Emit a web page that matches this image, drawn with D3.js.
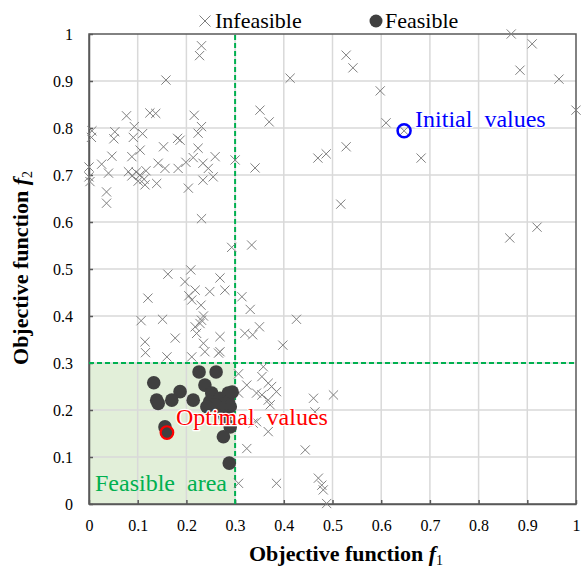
<!DOCTYPE html>
<html><head><meta charset="utf-8">
<script src="https://cdnjs.cloudflare.com/ajax/libs/d3/7.8.5/d3.min.js"></script>
<style>body{margin:0;background:#fff}svg{display:block}text{font-family:"Liberation Serif","Times New Roman",serif}</style>
</head><body><svg id="c" width="581" height="568"></svg>
<script>
const xTicks = [0,0.1,0.2,0.3,0.4,0.5,0.6,0.7,0.8,0.9,1];
const yTicks = [0,0.1,0.2,0.3,0.4,0.5,0.6,0.7,0.8,0.9,1];
const feasibleLimit = 0.3;
const initialValue = [0.647, 0.794];
const optimalValue = [0.160, 0.152];
const infeasible = [
[0.231,0.975],[0.227,0.954],[0.158,0.902],[0.413,0.906],[0.528,0.955],[0.542,0.928],[0.867,1.0],[0.910,0.979],
[0.885,0.923],[0.965,0.904],[1.0,0.838],[0.598,0.879],[0.610,0.811],[0.682,0.736],[0.351,0.838],[0.370,0.813],
[0.470,0.736],[0.487,0.745],[0.528,0.760],[0.517,0.638],[0.341,0.715],[0.300,0.732],[0.864,0.566],[0.920,0.589],
[0.647,0.794],[0.077,0.826],[0.125,0.832],[0.137,0.831],[0.216,0.827],[0.231,0.803],[0.006,0.794],[0.005,0.780],
[0.053,0.792],[0.051,0.777],[0.093,0.803],[0.110,0.788],[0.091,0.780],[0.182,0.778],[0.187,0.774],[0.224,0.789],
[0.153,0.760],[0.224,0.757],[0.105,0.753],[0.047,0.740],[0.088,0.739],[0.000,0.717],[0.026,0.723],[0.040,0.704],
[0.081,0.707],[0.097,0.706],[0.105,0.700],[0.113,0.691],[0.101,0.687],[0.117,0.709],[0.088,0.698],[0.142,0.725],
[0.156,0.714],[0.183,0.714],[0.199,0.727],[0.214,0.737],[0.234,0.725],[0.245,0.714],[0.259,0.739],[0.234,0.689],
[0.255,0.696],[0.139,0.682],[0.115,0.679],[0.002,0.686],[0.000,0.696],[0.204,0.672],[0.036,0.664],[0.036,0.640],
[0.231,0.607],[0.293,0.546],[0.334,0.551],[0.162,0.489],[0.209,0.498],[0.197,0.473],[0.269,0.481],[0.218,0.455],
[0.205,0.443],[0.248,0.452],[0.279,0.455],[0.121,0.438],[0.211,0.434],[0.230,0.423],[0.314,0.441],[0.331,0.414],
[0.235,0.400],[0.231,0.391],[0.228,0.384],[0.218,0.377],[0.107,0.390],[0.151,0.393],[0.221,0.363],[0.269,0.356],
[0.320,0.363],[0.336,0.360],[0.177,0.353],[0.115,0.345],[0.235,0.342],[0.238,0.324],[0.269,0.324],[0.266,0.321],
[0.116,0.322],[0.160,0.313],[0.211,0.313],[0.350,0.377],[0.426,0.393],[0.398,0.338],[0.307,0.277],[0.324,0.253],
[0.344,0.236],[0.307,0.236],[0.344,0.175],[0.324,0.118],[0.307,0.044],[0.358,0.292],[0.355,0.271],[0.368,0.257],
[0.375,0.250],[0.385,0.239],[0.355,0.232],[0.368,0.221],[0.372,0.211],[0.461,0.225],[0.502,0.232],[0.464,0.196],
[0.337,0.172],[0.368,0.154],[0.444,0.115],[0.385,0.044],[0.471,0.055],[0.478,0.040],[0.481,0.030],[0.488,0.001]
];
const feasible = [
[0.226,0.281],[0.261,0.281],[0.133,0.258],[0.238,0.253],[0.187,0.239],[0.252,0.236],[0.139,0.221],[0.170,0.221],
[0.214,0.221],[0.142,0.214],[0.248,0.218],[0.269,0.225],[0.286,0.236],[0.286,0.218],[0.290,0.207],[0.272,0.204],
[0.259,0.211],[0.242,0.207],[0.279,0.186],[0.290,0.164],[0.156,0.164],[0.160,0.152],[0.276,0.143],[0.288,0.087],
[0.294,0.238]
];

const svg = d3.select("#c");
const x = d3.scaleLinear().domain([0,1]).range([89,576]);
const y = d3.scaleLinear().domain([0,1]).range([504,34]);
const fmt = d => d===0?"0":d===1?"1":d3.format(".1f")(d);

svg.append("rect").attr("x",x(0)).attr("y",y(feasibleLimit)).attr("width",x(feasibleLimit)-x(0))
  .attr("height",y(0)-y(feasibleLimit)).attr("fill","#e2efd9");
svg.append("g").selectAll("line.v").data(xTicks.slice(1,-1)).join("line")
  .attr("x1",d=>x(d)).attr("x2",d=>x(d)).attr("y1",y(0)).attr("y2",y(1)).attr("stroke","#d9d9d9").attr("stroke-width",1.5);
svg.append("g").selectAll("line.h").data(yTicks.slice(1,-1)).join("line")
  .attr("y1",d=>y(d)).attr("y2",d=>y(d)).attr("x1",x(0)).attr("x2",x(1)).attr("stroke","#d9d9d9").attr("stroke-width",1.5);
svg.append("rect").attr("x",x(0)).attr("y",y(1)).attr("width",x(1)-x(0)).attr("height",y(0)-y(1))
  .attr("fill","none").attr("stroke","#595959").attr("stroke-width",1.5);

const xa = svg.append("g").attr("transform",`translate(0,${y(0)})`)
  .call(d3.axisBottom(x).tickValues(xTicks).tickFormat(fmt).tickSize(-4).tickPadding(16).tickSizeOuter(0));
const ya = svg.append("g").attr("transform",`translate(${x(0)},0)`)
  .call(d3.axisLeft(y).tickValues(yTicks).tickFormat(fmt).tickSize(-4).tickPadding(16).tickSizeOuter(0));
[xa,ya].forEach(a=>{
  a.select(".domain").attr("stroke","#595959").attr("stroke-width",1.5);
  a.selectAll(".tick line").attr("stroke","#595959").attr("stroke-width",1.5);
  a.selectAll(".tick text").attr("font-family","Liberation Serif").attr("font-size",16).attr("fill","#000");
});

svg.append("line").attr("x1",x(feasibleLimit)).attr("x2",x(feasibleLimit)).attr("y1",y(0)).attr("y2",y(1))
  .attr("stroke","#00b050").attr("stroke-width",2).attr("stroke-dasharray","5,3");
svg.append("line").attr("x1",x(0)).attr("x2",x(1)).attr("y1",y(feasibleLimit)).attr("y2",y(feasibleLimit))
  .attr("stroke","#00b050").attr("stroke-width",2).attr("stroke-dasharray","5,3");

const cross = s => `M${-s},${-s}L${s},${s}M${-s},${s}L${s},${-s}`;
svg.append("g").selectAll("path").data(infeasible).join("path")
  .attr("transform",d=>`translate(${x(d[0])},${y(d[1])})`).attr("d",cross(4.6))
  .attr("stroke","#7f7f7f").attr("stroke-width",1).attr("fill","none");
svg.append("g").selectAll("circle").data(feasible).join("circle")
  .attr("cx",d=>x(d[0])).attr("cy",d=>y(d[1])).attr("r",6.8).attr("fill","#404040");

svg.append("circle").attr("cx",x(optimalValue[0])).attr("cy",y(optimalValue[1])).attr("r",6.3)
  .attr("fill","#404040").attr("stroke","#ff0000").attr("stroke-width",2.2);
svg.append("circle").attr("cx",x(initialValue[0])).attr("cy",y(initialValue[1])).attr("r",6.5)
  .attr("fill","none").attr("stroke","#0000ff").attr("stroke-width",2.5);

const halo = t => t.attr("stroke","#fff").attr("stroke-width",2.5).attr("paint-order","stroke").attr("stroke-linejoin","round");
svg.append("text").attr("x",x(optimalValue[0])+9).attr("y",y(optimalValue[1])-8).attr("font-size",24).attr("fill","#ff0000")
  .text("Optimal\u00a0 values").call(halo);
svg.append("text").attr("x",x(initialValue[0])+11).attr("y",y(initialValue[1])-4).attr("font-size",24).attr("fill","#0000ff")
  .text("Initial\u00a0 values").call(halo);
svg.append("text").attr("x",95).attr("y",491).attr("font-size",24).attr("fill","#00b050").text("Feasible\u00a0 area");

svg.append("path").attr("transform","translate(205,21)").attr("d",cross(5.5)).attr("stroke","#7f7f7f").attr("stroke-width",1).attr("fill","none");
svg.append("text").attr("x",215).attr("y",28).attr("font-size",22).text("Infeasible");
svg.append("circle").attr("cx",376).attr("cy",21).attr("r",6.5).attr("fill","#404040");
svg.append("text").attr("x",385).attr("y",28).attr("font-size",22).text("Feasible");

const xt = svg.append("text").attr("x",346).attr("y",561).attr("text-anchor","middle").attr("font-size",22).attr("font-weight","bold");
xt.append("tspan").text("Objective function ");
xt.append("tspan").attr("font-style","italic").text("f");
xt.append("tspan").attr("font-size",14).attr("font-weight","normal").attr("dy",4).text("1");
const yt = svg.append("text").attr("transform","translate(28,268) rotate(-90)").attr("text-anchor","middle").attr("font-size",22).attr("font-weight","bold");
yt.append("tspan").text("Objective function ");
yt.append("tspan").attr("font-style","italic").text("f");
yt.append("tspan").attr("font-size",14).attr("font-weight","normal").attr("dy",4).text("2");
</script></body></html>
